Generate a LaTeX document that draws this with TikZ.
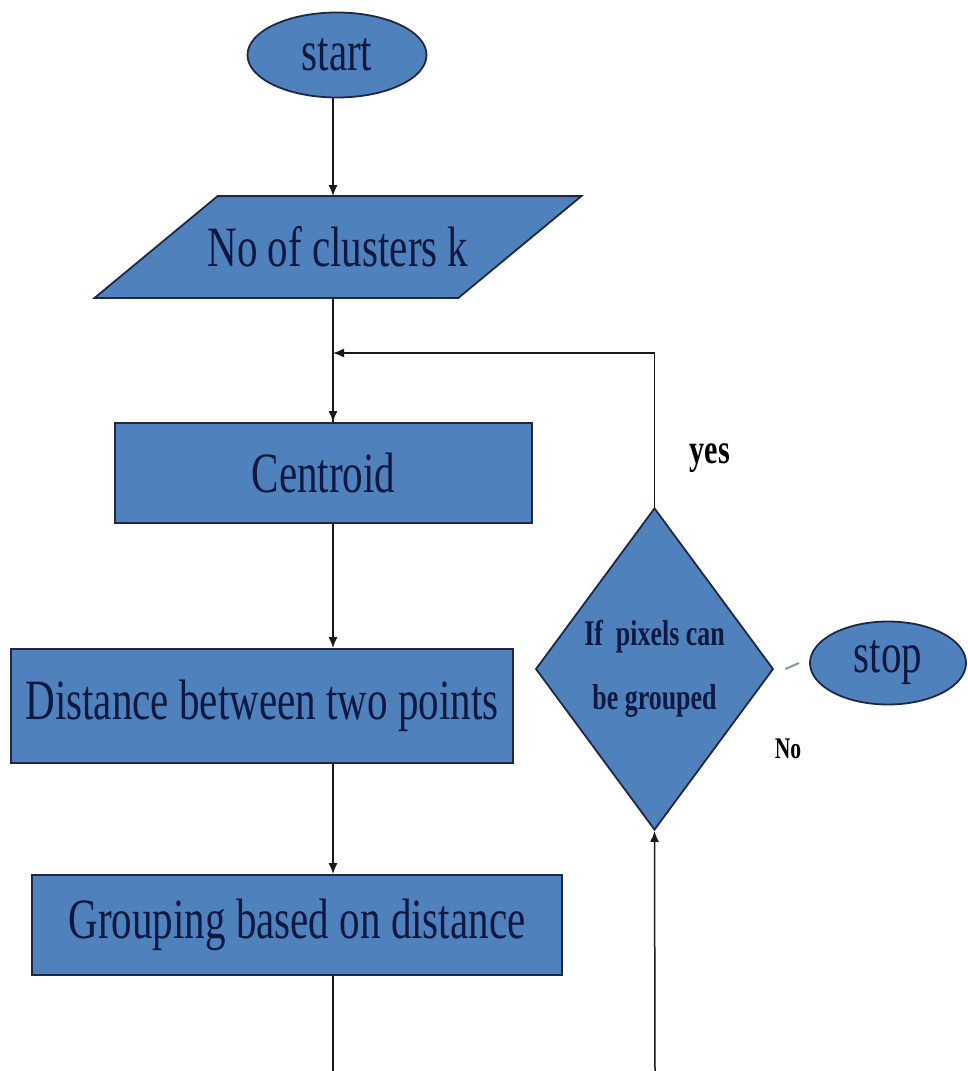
\documentclass[tikz,border=0pt]{standalone}
\usepackage{fontspec}
\setmainfont{Liberation Serif}
\usetikzlibrary{arrows.meta,shapes.geometric,backgrounds}
\definecolor{boxfill}{RGB}{79,129,189}
\definecolor{boxline}{RGB}{30,40,70}
\definecolor{txtc}{RGB}{14,24,64}
\definecolor{dashc}{RGB}{130,150,170}
\newcommand\nar[1]{\scalebox{0.72}[1]{#1}}
\tikzset{
  flowbox/.style={draw=boxline, fill=boxfill, line width=1.8pt, inner sep=0pt, text=txtc,
    font=\fontsize{57}{60}\selectfont},
  termbox/.style={flowbox, ellipse},
  decbox/.style={flowbox, diamond, align=center, font=\fontsize{36}{64}\selectfont\bfseries},
  conn/.style={line width=1.5pt, draw=black!90},
  arr/.style={conn, -{Latex[length=11pt,width=9pt]}},
  lbl/.style={inner sep=0pt, text=black, font=\bfseries}
}
\begin{document}
\begin{tikzpicture}[x=1pt,y=-1pt]
\useasboundingbox (0,0) rectangle (967,1071);
\coordinate (spine) at (333,0);
\coordinate (join) at (333,353);
\coordinate (bl) at (333,1071);
\coordinate (br) at (655,1071);

\node[termbox, minimum width=179pt, minimum height=85pt] (start) at (337,55) {\nar{start}};

\node[flowbox, draw=none, fill=none, minimum width=362pt, minimum height=100pt] (par) at (338,247) {\nar{No of clusters k}};
\begin{scope}[on background layer]
\draw[draw=boxline, fill=boxfill, line width=1.8pt]
  ([xshift=61.5pt]par.north west) -- ([xshift=61.5pt]par.north east)
  -- ([xshift=-61.5pt]par.south east) -- ([xshift=-61.5pt]par.south west) -- cycle;
\end{scope}

\node[flowbox, minimum width=417pt, minimum height=100pt] (cen) at (323.5,473) {\nar{Centroid}};
\node[flowbox, minimum width=502pt, minimum height=114pt] (dist) at (262,706) {\nar{Distance between two points}};
\node[flowbox, minimum width=530pt, minimum height=100pt] (grp) at (297,925) {\nar{Grouping based on distance}};

\node[decbox, minimum width=229pt, minimum height=322pt] (dec) at (654.5,669)
  {\nar{If~ pixels can}\\\nar{be grouped}};
\node[termbox, minimum width=156pt, minimum height=83pt] (stop) at (888,663) {\nar{stop}};

\node[lbl, font=\fontsize{42}{44}\selectfont\bfseries] (yes) at (710,458) {\nar{yes}};
\node[lbl, font=\fontsize{30}{32}\selectfont\bfseries] (no) at (788,749) {\nar{No}};

\draw[arr] (start.south -| spine) -- (par.north -| spine);
\draw[conn] (par.south -| spine) -- (cen.north -| spine);
\draw[arr] (join) -- (cen.north -| spine);
\draw[arr] (dec.north) |- (join);
\draw[arr] (cen.south -| spine) -- (dist.north -| spine);
\draw[arr] (dist.south -| spine) -- (grp.north -| spine);
\draw[conn] (grp.south -| spine) -- (bl);
\draw[arr] (br) -- (dec.south);
\draw[draw=dashc, line width=2pt] ([xshift=11pt]dec.east) -- ([xshift=-10pt]stop.west);
\end{tikzpicture}
\end{document}
